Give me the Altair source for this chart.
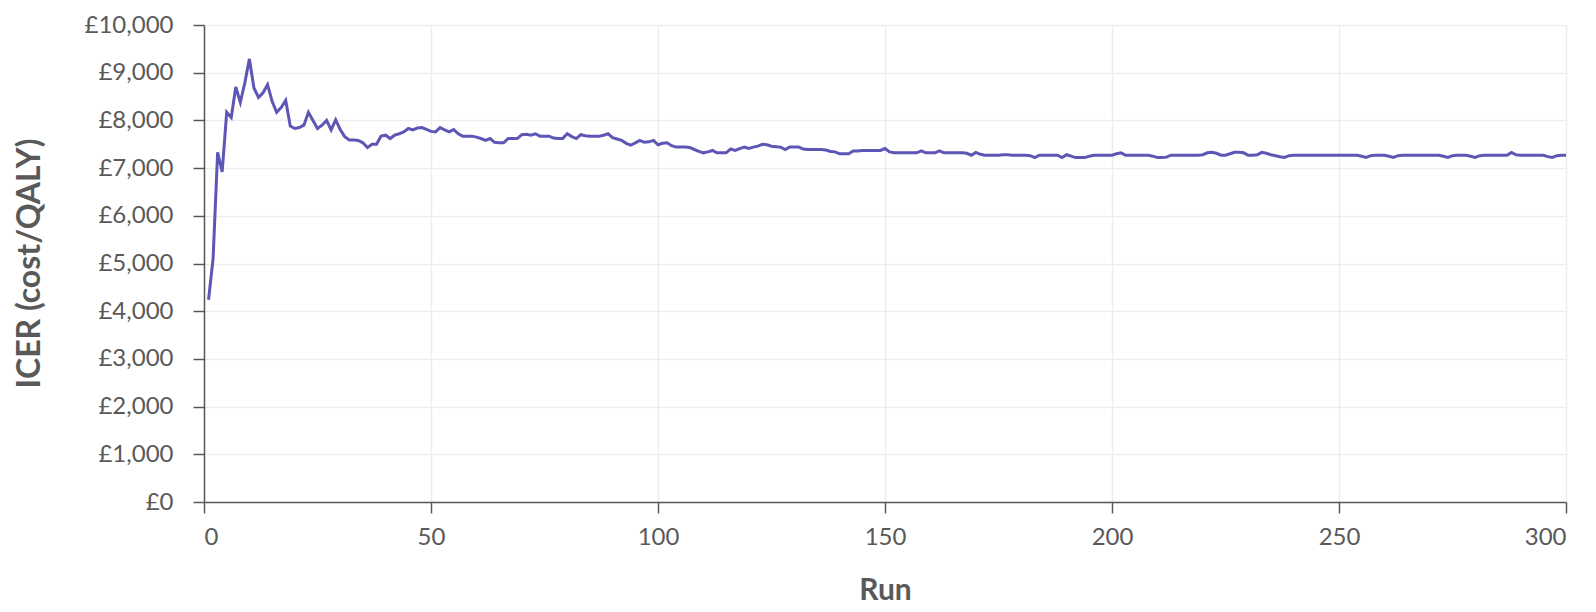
import altair as alt
import pandas as pd

runs = list(range(1, 301))
icer = [
    4240, 5100, 7330, 6920, 8170, 8060, 8700, 8380, 8790, 9290, 8680, 8480, 8580, 8750, 8400, 8170, 8270, 8420, 7880, 7830,
    7850, 7900, 8170, 8000, 7830, 7900, 8000, 7800, 8010, 7810, 7660, 7590, 7590, 7580, 7530, 7430, 7500, 7500, 7670, 7690,
    7620, 7690, 7720, 7760, 7830, 7800, 7840, 7850, 7810, 7770, 7760, 7850, 7800, 7760, 7810, 7720, 7670, 7670, 7670, 7650,
    7620, 7580, 7620, 7540, 7530, 7530, 7620, 7620, 7620, 7700, 7710, 7690, 7720, 7670, 7670, 7670, 7630, 7620, 7620, 7720,
    7660, 7620, 7700, 7680, 7670, 7670, 7670, 7690, 7720, 7640, 7610, 7580, 7520, 7480, 7530, 7580, 7540, 7550, 7580, 7490,
    7520, 7530, 7470, 7440, 7440, 7440, 7430, 7390, 7350, 7320, 7340, 7370, 7320, 7320, 7320, 7400, 7370, 7410, 7440, 7410,
    7440, 7460, 7500, 7490, 7460, 7450, 7440, 7390, 7440, 7440, 7440, 7400, 7390, 7390, 7390, 7390, 7380, 7350, 7340, 7300,
    7300, 7300, 7360, 7360, 7370, 7370, 7370, 7370, 7370, 7410, 7340, 7320, 7320, 7320, 7320, 7320, 7320, 7360, 7320, 7320,
    7320, 7360, 7320, 7320, 7320, 7320, 7320, 7310, 7270, 7330, 7290, 7270, 7270, 7270, 7270, 7280, 7280, 7270, 7270, 7270,
    7270, 7260, 7220, 7270, 7270, 7270, 7270, 7270, 7220, 7280, 7250, 7220, 7220, 7220, 7250, 7270, 7270, 7270, 7270, 7270,
    7300, 7320, 7270, 7270, 7270, 7270, 7270, 7270, 7250, 7220, 7220, 7230, 7270, 7270, 7270, 7270, 7270, 7270, 7270, 7280,
    7320, 7330, 7310, 7270, 7270, 7300, 7330, 7330, 7320, 7270, 7270, 7280, 7330, 7310, 7280, 7260, 7240, 7225, 7260, 7270,
    7270, 7270, 7270, 7270, 7270, 7270, 7270, 7270, 7270, 7270, 7270, 7270, 7270, 7270, 7250, 7225, 7260, 7270, 7270, 7270,
    7250, 7225, 7260, 7270, 7270, 7270, 7270, 7270, 7270, 7270, 7270, 7270, 7250, 7225, 7260, 7270, 7270, 7270, 7250, 7225,
    7260, 7270, 7270, 7270, 7270, 7270, 7270, 7330, 7280, 7270, 7270, 7270, 7270, 7270, 7270, 7240, 7225, 7260, 7270, 7270,
]
x_ticks = [0, 50, 100, 150, 200, 250, 300]
y_ticks = [0, 1000, 2000, 3000, 4000, 5000, 6000, 7000, 8000, 9000, 10000]

df = pd.DataFrame({"Run": runs, "ICER": icer})

FONT = "Lato"
GREY = "#595959"

chart = alt.Chart(df).mark_line(color="#5E56B5", strokeWidth=3).encode(
    x=alt.X(
        "Run:Q",
        scale=alt.Scale(domain=[0, 300], nice=False),
        axis=alt.Axis(
            values=x_ticks,
            title="Run",
            titleFont=FONT,
            titleFontSize=30,
            titleFontWeight="bold",
            titleColor=GREY,
            titleBaseline="alphabetic",
            titleY=97,
            labelFont=FONT,
            labelFontSize=24,
            labelColor=GREY,
            labelPadding=12,
            tickSize=11,
            tickColor=GREY,
            tickWidth=1.5,
            domainColor=GREY,
            domainWidth=1.5,
            gridColor="#EDEDED",
            gridWidth=1.5,
        ),
    ),
    y=alt.Y(
        "ICER:Q",
        scale=alt.Scale(domain=[0, 10000], nice=False),
        axis=alt.Axis(
            values=y_ticks,
            labelExpr="'£' + format(datum.value, ',')",
            title="ICER (cost/QALY)",
            titleFont=FONT,
            titleFontSize=32,
            titleFontWeight="bold",
            titleColor=GREY,
            titleAngle=270,
            titleAlign="center",
            titleBaseline="middle",
            titleX=-175,
            titleY=238,
            labelFont=FONT,
            labelFontSize=24,
            labelColor=GREY,
            labelPadding=20,
            tickSize=11,
            tickColor=GREY,
            tickWidth=1.5,
            domainColor=GREY,
            domainWidth=1.5,
            gridColor="#EDEDED",
            gridWidth=1.5,
        ),
    ),
).properties(
    width=1362,
    height=477,
    autosize=alt.AutoSizeParams(type="none"),
    padding={"left": 196, "top": 17, "right": 20, "bottom": 102},
).configure_view(stroke=None)

chart.save("out.html", embed_options={"renderer": "svg", "actions": False})
